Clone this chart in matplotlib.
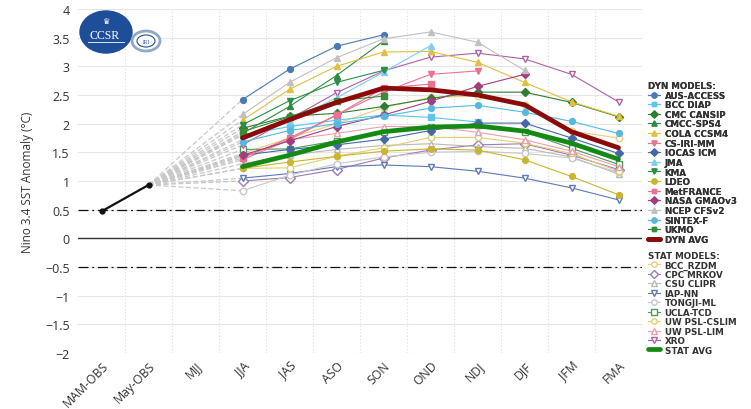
import matplotlib
matplotlib.use("Agg")
import matplotlib.pyplot as plt
from matplotlib.patches import Ellipse
from matplotlib.ticker import FuncFormatter, MultipleLocator

# ---------------- data ----------------
categories = ["MAM-OBS", "May-OBS", "MJJ", "JJA", "JAS", "ASO", "SON",
              "OND", "NDJ", "DJF", "JFM", "FMA"]
obs_values = [0.47, 0.93]

# dynamical models (values start at JJA)
aus_access = [2.42, 2.95, 3.35, 3.55]
bcc_diap = [1.80, 1.95, 2.06, 2.15, 2.11, 2.03]
cmc_cansip = [1.92, 2.13, 2.18, 2.30, 2.44, 2.55, 2.55, 2.37, 2.12]
cmcc_sps4 = [1.83, 2.30, 2.84, 3.44]
cola_ccsm4 = [2.06, 2.60, 3.00, 3.25, 3.26, 3.07, 2.72, 2.38, 2.13]
cs_iri_mm = [1.37, 1.72, 2.15, 2.55, 2.86, 2.92]
iocas_icm = [1.45, 1.55, 1.63, 1.73, 1.88, 2.01, 2.01, 1.75, 1.48]
jma = [1.72, 2.05, 2.45, 2.90, 3.36]
kma = [1.98, 2.40, 2.72, 2.93]
ldeo = [1.22, 1.33, 1.43, 1.52, 1.56, 1.54, 1.37, 1.08, 0.76]
metfrance = [1.40, 1.75, 2.15, 2.62, 2.69]
nasa_gmaov3 = [1.45, 1.70, 1.95, 2.15, 2.39, 2.65, 2.86]
ncep_cfsv2 = [2.16, 2.72, 3.15, 3.48, 3.60, 3.42, 2.93]
sintex_f = [1.68, 1.88, 2.00, 2.13, 2.27, 2.32, 2.20, 2.04, 1.83]
ukmo = [1.86, 2.12, 2.40, 2.48]
dyn_avg = [1.75, 2.07, 2.37, 2.62, 2.59, 2.50, 2.33, 1.86, 1.58]

# statistical models (values start at JJA)
bcc_rzdm = [1.48, 1.75, 2.00, 2.28, 2.46, 2.48, 2.33, 1.87, 1.75]
cpc_mrkov = [1.00, 1.06, 1.20, 1.40, 1.54, 1.63, 1.65, 1.45, 1.20]
csu_clipr = [1.30, 1.45, 1.55, 1.62, 1.65, 1.60, 1.57, 1.42, 1.12]
iap_nn = [1.05, 1.13, 1.25, 1.28, 1.25, 1.17, 1.05, 0.88, 0.67]
tongji_ml = [0.83, 1.10, 1.30, 1.42, 1.50, 1.52, 1.48, 1.40, 1.15]
ucla_tcd = [1.55, 1.56, 1.70, 1.85, 1.95, 1.97, 1.86, 1.57, 1.29]
uw_psl_cslim = [1.22, 1.23, 1.43, 1.58, 1.76, 1.76, 1.66, 1.48, 1.17]
uw_psl_lim = [1.43, 1.72, 1.83, 1.95, 1.95, 1.85, 1.72, 1.52, 1.25]
xro = [1.63, 2.08, 2.54, 2.92, 3.16, 3.23, 3.13, 2.86, 2.38]
stat_avg = [1.25, 1.45, 1.68, 1.86, 1.94, 1.96, 1.87, 1.66, 1.38]

dyn_names = ["AUS-ACCESS", "BCC DIAP", "CMC CANSIP", "CMCC-SPS4", "COLA CCSM4",
             "CS-IRI-MM", "IOCAS ICM", "JMA", "KMA", "LDEO", "MetFRANCE",
             "NASA GMAOv3", "NCEP CFSv2", "SINTEX-F", "UKMO"]
dyn_series = [aus_access, bcc_diap, cmc_cansip, cmcc_sps4, cola_ccsm4, cs_iri_mm,
              iocas_icm, jma, kma, ldeo, metfrance, nasa_gmaov3, ncep_cfsv2,
              sintex_f, ukmo]
stat_names = ["BCC_RZDM", "CPC MRKOV", "CSU CLIPR", "IAP-NN", "TONGJI-ML",
              "UCLA-TCD", "UW PSL-CSLIM", "UW PSL-LIM", "XRO"]
stat_series = [bcc_rzdm, cpc_mrkov, csu_clipr, iap_nn, tongji_ml, ucla_tcd,
               uw_psl_cslim, uw_psl_lim, xro]

# ---------------- styles ----------------
dyn_styles = [
    ("#4a7ab5", "o"), ("#5cc4ee", "s"), ("#2e7d32", "D"), ("#2e8b3e", "^"),
    ("#e0c040", "^"), ("#ec7390", "v"), ("#4668a8", "D"), ("#7fd0ee", "^"),
    ("#2a9048", "v"), ("#c9b530", "o"), ("#e8728f", "s"), ("#a33d80", "D"),
    ("#c0c0c0", "^"), ("#56b8e0", "o"), ("#3a8c3a", "s"),
]
stat_styles = [
    ("#e2d27a", "o"), ("#a07ab8", "D"), ("#b8b8b8", "^"), ("#5a7ab8", "v"),
    ("#c8c8c8", "o"), ("#4e9a56", "s"), ("#e0d070", "o"), ("#eaa0ae", "^"),
    ("#b060a8", "v"),
]

plt.rcParams["font.family"] = ["Open Sans", "DejaVu Sans"]

fig = plt.figure(figsize=(7.51, 4.10), dpi=100)
ax = fig.add_axes([78 / 751, 1 - 354 / 410, (642 - 78) / 751, (354 - 10) / 410])

x_all = list(range(len(categories)))
start = categories.index("JJA")
x_obs = x_all[:2]
x_fc = x_all[start:]

# gray dashed connectors from last observation to first forecast season
for vals in dyn_series + stat_series:
    ax.plot([x_obs[1], x_fc[0]], [obs_values[1], vals[0]], color="#c8c8c8",
            lw=0.9, ls=(0, (4, 2)), zorder=2)

# observations
ax.plot(x_obs, obs_values, color="#111111", lw=1.6, marker="o", ms=3.5, zorder=6)

handles_dyn = []
for name, vals, (c, m) in zip(dyn_names, dyn_series, dyn_styles):
    ln, = ax.plot(x_fc[:len(vals)], vals, color=c, lw=0.8, marker=m, ms=4.2,
                  mfc=c, mec=c, zorder=4, label=name)
    handles_dyn.append(ln)

handles_stat = []
for name, vals, (c, m) in zip(stat_names, stat_series, stat_styles):
    ln, = ax.plot(x_fc[:len(vals)], vals, color=c, lw=0.8, marker=m, ms=4.6,
                  mfc="white", mec=c, mew=1.0, zorder=3, label=name)
    handles_stat.append(ln)

ln_dyn_avg, = ax.plot(x_fc[:len(dyn_avg)], dyn_avg, color="#8b0a0a", lw=3.4,
                      zorder=5, solid_capstyle="round", label="DYN AVG")
ln_stat_avg, = ax.plot(x_fc[:len(stat_avg)], stat_avg, color="#148a14", lw=3.4,
                       zorder=5, solid_capstyle="round", label="STAT AVG")
handles_dyn.append(ln_dyn_avg)
handles_stat.append(ln_stat_avg)

# reference lines
ax.axhline(0, color="#333333", lw=1.0, zorder=2.5)
ax.axhline(0.5, color="#111111", lw=0.9, ls=(0, (8, 3, 1.5, 3)), zorder=2.5)
ax.axhline(-0.5, color="#111111", lw=0.9, ls=(0, (8, 3, 1.5, 3)), zorder=2.5)

# axes formatting
ax.set_xlim(-0.5, len(categories) - 0.5)
ax.set_ylim(-2, 4)
ax.yaxis.set_major_locator(MultipleLocator(0.5))
ax.yaxis.set_major_formatter(FuncFormatter(lambda v, p: ("%g" % v).replace("-", "\u2212")))
ax.set_xticks(x_all)
ax.set_xticklabels(categories, rotation=45, ha="right", rotation_mode="anchor",
                   fontsize=8.8, color="#333333")
ax.tick_params(axis="y", labelsize=9, colors="#333333", length=0, pad=6)
ax.tick_params(axis="x", length=0, pad=4)
ax.set_xticks([v + 0.5 for v in x_all[:-1]], minor=True)
ax.set_axisbelow(True)
ax.grid(axis="y", which="major", color="#e6e6e6", lw=0.8)
ax.grid(axis="x", which="minor", color="#dcdcdc", lw=0.8, ls=(0, (1, 2)))
ax.tick_params(axis="x", which="minor", length=0)
for s in ax.spines.values():
    s.set_visible(False)
ax.set_ylabel("Nino 3.4 SST Anomaly (\u00b0C)", fontsize=8.5, color="#333333", labelpad=8)

# legends
leg_kw = dict(loc="upper left", frameon=False,
              prop={"family": ["DejaVu Sans"], "size": 6.3, "weight": "bold"},
              handlelength=1.4, handletextpad=0.5, borderaxespad=0, borderpad=0,
              alignment="left", markerscale=0.85)
leg1 = fig.legend(handles=handles_dyn, labels=dyn_names + ["DYN AVG"],
                  bbox_to_anchor=(648 / 751, 1 - 82 / 410), title="DYN MODELS:",
                  labelspacing=0.07, **leg_kw)
leg2 = fig.legend(handles=handles_stat, labels=stat_names + ["STAT AVG"],
                  bbox_to_anchor=(648 / 751, 1 - 252 / 410), title="STAT MODELS:",
                  labelspacing=0.05, **leg_kw)
fig.add_artist(leg1)
for lg in (leg1, leg2):
    tt = lg.get_title()
    tt.set_fontweight("bold")
    tt.set_fontsize(6.3)
    tt.set_family(["DejaVu Sans"])
    tt.set_color("#333333")
    for t in lg.get_texts():
        t.set_color("#333333")

# logo (decoration)
ov = fig.add_axes([0, 0, 1, 1], facecolor="none")
ov.set_xlim(0, 751)
ov.set_ylim(410, 0)
ov.axis("off")
ov.add_patch(Ellipse((106, 33), 52, 42, color="#1f4e99", zorder=1))
ov.add_patch(Ellipse((146, 42), 28, 20, facecolor="white", edgecolor="#8fa8c8", lw=2, zorder=2))
ov.add_patch(Ellipse((146, 42), 18, 12, facecolor="white", edgecolor="#1f4e99", lw=0.8, zorder=3))
ov.text(105, 36, "CCSR", color="white", fontsize=8.5, ha="center", va="center",
        family=["Liberation Serif", "DejaVu Serif"], zorder=4)
ov.plot([88, 124], [43, 43], color="white", lw=0.6, zorder=4)
ov.text(106, 22, "\u265b", color="white", fontsize=6, ha="center", va="center",
        family=["DejaVu Sans"], zorder=4)
ov.text(146, 42.5, "IRI", color="#1f4e99", fontsize=4, ha="center", va="center",
        family=["Liberation Serif", "DejaVu Serif"], zorder=4)

fig.savefig("out.png", dpi=100)
